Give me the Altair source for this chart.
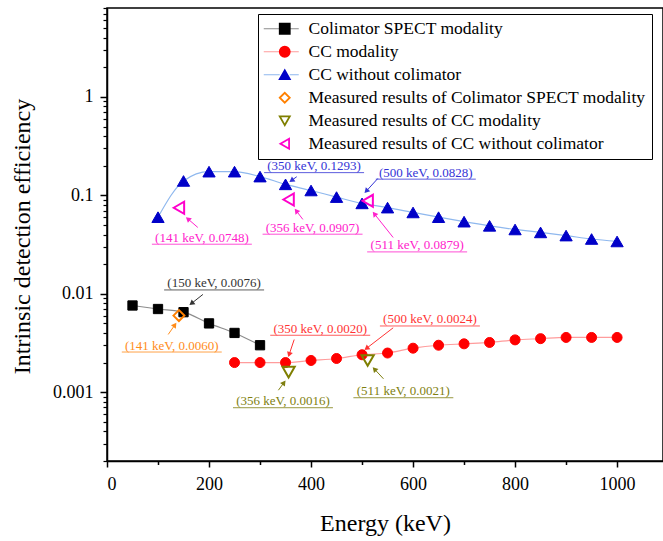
import math
import altair as alt
import pandas as pd

# ---------------- data ----------------
SERIES = [
    "Colimator SPECT modality",
    "CC modality",
    "CC without colimator",
    "Measured results of Colimator SPECT modality",
    "Measured results of CC modality",
    "Measured results of CC without colimator",
]

spect_energy = [50, 100, 150, 200, 250, 300]
spect_eff = [0.0076, 0.0070, 0.0065, 0.0050, 0.0040, 0.0030]

cc_energy = [250, 300, 350, 400, 450, 500, 550, 600, 650, 700, 750, 800, 850, 900, 950, 1000]
cc_eff = [0.0020, 0.0020, 0.0020, 0.0021, 0.0022, 0.0024, 0.0025, 0.0028, 0.0030,
          0.0031, 0.0032, 0.0034, 0.0035, 0.0036, 0.0036, 0.0036]

free_energy = [100, 150, 200, 250, 300, 350, 400, 450, 500, 550, 600, 650, 700,
               750, 800, 850, 900, 950, 1000]
free_eff = [0.060, 0.140, 0.174, 0.174, 0.155, 0.1293, 0.112, 0.096, 0.0828, 0.075,
            0.067, 0.060, 0.054, 0.049, 0.045, 0.042, 0.039, 0.036, 0.034]

meas_spect_energy = [141]
meas_spect_eff = [0.0060]
meas_cc_energy = [356, 511]
meas_cc_eff = [0.0016, 0.0021]
meas_free_energy = [141, 356, 511]
meas_free_eff = [0.0748, 0.0907, 0.0879]

# annotations (label centre, arrow tail, arrow head) in data units
ann_text = ["(350 keV, 0.1293)", "(500 keV, 0.0828)", "(141 keV, 0.0748)",
            "(356 keV, 0.0907)", "(511 keV, 0.0879)", "(150 keV, 0.0076)",
            "(141 keV, 0.0060)", "(350 keV, 0.0020)", "(500 keV, 0.0024)",
            "(356 keV, 0.0016)", "(511 keV, 0.0021)"]
ann_x = [406, 625, 186, 403, 608, 210, 127, 418, 633, 345, 581]
ann_y = [0.198, 0.170, 0.0371, 0.0469, 0.0310, 0.01273, 0.00298, 0.00441, 0.00548, 0.000810, 0.001023]
tail_x = [372, 531, 178, 384, 561, 188, 120, 367, 561, 336, 542]
tail_y = [0.1545, 0.1485, 0.0472, 0.0569, 0.0373, 0.00984, 0.00386, 0.00343, 0.00451, 0.001047, 0.001368]
head_x = [359, 506, 156, 369, 522, 163, 135, 356, 506, 349, 522]
head_y = [0.1384, 0.107, 0.0592, 0.0719, 0.0670, 0.00778, 0.00499, 0.00232, 0.00272, 0.001294, 0.00177]

BLUE_T, MAG_T, BLK_T, ORG_T, RED_T, OLV_T = "#3333d6", "#ff22cc", "#333333", "#ff8c1a", "#ff3333", "#7f7f10"
ann_color = [BLUE_T, BLUE_T, MAG_T, MAG_T, MAG_T, BLK_T, ORG_T, RED_T, RED_T, OLV_T, OLV_T]

x_major = [0, 200, 400, 600, 800, 1000]
x_minor = [100, 300, 500, 700, 900]
y_major = [0.001, 0.01, 0.1, 1]
y_minor = [m * 10.0 ** e for e in range(-4, 1) for m in range(2, 10) if 2e-4 <= m * 10.0 ** e <= 8]

# ---------------- styles / geometry ----------------
MARK_COLOR = ["#000000", "#ff0000", "#0000c8", "#ff8000", "#7f7f00", "#ff00cc"]
MARK_FILL = ["#000000", "#ff0000", "#0000c8", "transparent", "transparent", "transparent"]
LINE_COLOR = ["#8c8c8c", "#ff9c9c", "#8fb8ee"]
SHAPES = ["square", "circle", "triangle-up", "diamond", "triangle-down", "triangle-left"]
SIZES = [86, 100, 150, 120, 150, 145]
SW = [1, 1, 1, 2, 2, 2]

X_MIN, X_MAX = 0, 1090
Y_MIN, Y_MAX = 2e-4, 8
W, H = 556, 453
PX_KEV = W / (X_MAX - X_MIN)
PX_DEC = H / math.log10(Y_MAX / Y_MIN)
FONT = "Liberation Serif"


def to_px(x, y):
    return (x - X_MIN) * PX_KEV, (math.log10(Y_MAX) - math.log10(y)) * PX_DEC


def from_px(px, py):
    return px / PX_KEV + X_MIN, 10 ** (math.log10(Y_MAX) - py / PX_DEC)


# ---------------- tables ----------------
line_rows = []
for e, v in zip(spect_energy, spect_eff):
    line_rows.append(dict(series=SERIES[0], energy=e, eff=v, lc=LINE_COLOR[0]))
for e, v in zip(cc_energy, cc_eff):
    line_rows.append(dict(series=SERIES[1], energy=e, eff=v, lc=LINE_COLOR[1]))
for e, v in zip(free_energy, free_eff):
    line_rows.append(dict(series=SERIES[2], energy=e, eff=v, lc=LINE_COLOR[2]))
lines_df = pd.DataFrame(line_rows)

pt_rows = []
groups = [(spect_energy, spect_eff), (cc_energy, cc_eff), (free_energy, free_eff),
          (meas_spect_energy, meas_spect_eff), (meas_cc_energy, meas_cc_eff),
          (meas_free_energy, meas_free_eff)]
for i, (es, vs) in enumerate(groups):
    for e, v in zip(es, vs):
        pt_rows.append(dict(series=SERIES[i], energy=e, eff=v, size=SIZES[i], sw=SW[i]))
pts_df = pd.DataFrame(pt_rows)

ann_rows = []
for i, t in enumerate(ann_text):
    cx, cy = to_px(ann_x[i], ann_y[i])
    half = len(t) * 2.94
    ux1, uy = from_px(cx - half, cy + 6.5)
    ux2, _ = from_px(cx + half, cy + 6.5)
    tx, ty = to_px(tail_x[i], tail_y[i])
    hx, hy = to_px(head_x[i], head_y[i])
    dx, dy = hx - tx, hy - ty
    L = math.hypot(dx, dy)
    ux, uyv = dx / L, dy / L
    ax, ay = from_px(hx - 2.6 * ux, hy - 2.6 * uyv)
    ang = math.degrees(math.atan2(dx, -dy)) % 360
    ann_rows.append(dict(text=t, color=ann_color[i], x=ann_x[i], y=ann_y[i],
                         ux1=ux1, ux2=ux2, uy=uy, tx=tail_x[i], ty=tail_y[i],
                         ex=ax, ey=ay, ang=ang))
ann_df = pd.DataFrame(ann_rows)

# ---------------- chart ----------------
xs = alt.Scale(domain=[X_MIN, X_MAX], nice=False, zero=False)
ys = alt.Scale(type="log", domain=[Y_MIN, Y_MAX], nice=False)

x_minor_axis = alt.Axis(orient="bottom", values=x_minor, tickSize=3.5, tickWidth=1.5,
                        tickColor="black", labels=False, domain=False, title=None, grid=False)
y_minor_axis = alt.Axis(orient="left", values=y_minor, tickSize=4, tickWidth=1.2,
                        tickColor="black", labels=False, domain=False, title=None, grid=False)
x_major_axis = alt.Axis(orient="bottom", values=x_major, format="d", tickSize=6, tickWidth=1.5,
                        tickColor="black", domainColor="black", domainWidth=1.5,
                        labelFont=FONT, labelFontSize=18, labelColor="black", labelPadding=8,
                        title="Energy (keV)", titleFont=FONT, titleFontSize=24,
                        titleFontWeight="normal", titleColor="black", titleY=62,
                        titleBaseline="middle", grid=False)
y_major_axis = alt.Axis(orient="left", values=y_major, tickSize=7, tickWidth=1.5,
                        tickColor="black", domainColor="black", domainWidth=1.5,
                        labelFont=FONT, labelFontSize=18, labelColor="black", labelPadding=7,
                        labelExpr="datum.value >= 1 ? '1' : format(datum.value, '~g')",
                        title="Intrinsic detection efficiency", titleFont=FONT, titleFontSize=24,
                        titleFontWeight="normal", titleColor="black", titleAngle=270,
                        titleX=-85, titleY=228, titleAlign="center", titleBaseline="middle",
                        grid=False)

lines = alt.Chart(lines_df).mark_line(interpolate="monotone", strokeWidth=1.2).encode(
    x=alt.X("energy:Q", scale=xs, axis=x_minor_axis),
    y=alt.Y("eff:Q", scale=ys, axis=y_minor_axis),
    color=alt.Color("lc:N", scale=None),
    detail="series:N",
)

leg_common = dict(orient="none", legendX=151, legendY=6, title=None, labelFont=FONT,
                  labelFontSize=17.5, labelLimit=500, symbolSize=100, padding=6,
                  rowPadding=4, symbolOffset=12, labelOffset=15)
legB = alt.Legend(labelColor="black", symbolStrokeWidth=1.8, strokeColor="black", **leg_common)
legA = alt.Legend(labelOpacity=0, labelExpr="' '", symbolStrokeWidth=1.2, **leg_common)

ARM = "M-4.2,0H-1M1,0H2.8"
dummy = alt.Chart(pts_df).mark_point(filled=False, opacity=1).encode(
    x=alt.X("energy:Q", scale=xs, axis=None),
    y=alt.Y("eff:Q", scale=ys, axis=None),
    shape=alt.Shape("series:N", scale=alt.Scale(domain=SERIES, range=[ARM, ARM, ARM, "M0,0", "M0,0", "M0,0"]), legend=legA),
    stroke=alt.Stroke("series:N", scale=alt.Scale(domain=SERIES, range=LINE_COLOR + ["transparent"] * 3), legend=legA),
).transform_filter("false")

points = alt.Chart(pts_df).mark_point(filled=True, opacity=1).encode(
    x=alt.X("energy:Q", scale=xs, axis=x_major_axis),
    y=alt.Y("eff:Q", scale=ys, axis=y_major_axis),
    shape=alt.Shape("series:N", scale=alt.Scale(domain=SERIES, range=SHAPES), legend=legB),
    fill=alt.Fill("series:N", scale=alt.Scale(domain=SERIES, range=MARK_FILL), legend=legB),
    stroke=alt.Stroke("series:N", scale=alt.Scale(domain=SERIES, range=MARK_COLOR), legend=legB),
    size=alt.Size("size:Q", scale=None),
    strokeWidth=alt.StrokeWidth("sw:Q", scale=None),
)

underline = alt.Chart(ann_df).mark_rule(strokeWidth=0.8).encode(
    x=alt.X("ux1:Q", scale=xs, axis=None), x2="ux2:Q",
    y=alt.Y("uy:Q", scale=ys, axis=None),
    color=alt.Color("color:N", scale=None),
)
arrows = alt.Chart(ann_df).mark_rule(strokeWidth=1).encode(
    x=alt.X("tx:Q", scale=xs, axis=None), x2="ex:Q",
    y=alt.Y("ty:Q", scale=ys, axis=None), y2="ey:Q",
    color=alt.Color("color:N", scale=None),
)
heads = alt.Chart(ann_df).mark_point(shape="triangle", filled=True, opacity=1, size=36, strokeWidth=0).encode(
    x=alt.X("ex:Q", scale=xs, axis=None),
    y=alt.Y("ey:Q", scale=ys, axis=None),
    angle=alt.Angle("ang:Q", scale=None),
    fill=alt.Fill("color:N", scale=None),
)
texts = alt.Chart(ann_df).mark_text(font=FONT, fontSize=13, baseline="middle", align="center").encode(
    x=alt.X("x:Q", scale=xs, axis=None),
    y=alt.Y("y:Q", scale=ys, axis=None),
    text="text:N",
    color=alt.Color("color:N", scale=None),
)

chart = alt.layer(lines, dummy, points, underline, arrows, heads, texts).resolve_scale(
    shape="independent", fill="independent", stroke="independent"
).resolve_axis(x="independent", y="independent").properties(
    width=W, height=H,
    autosize=alt.AutoSizeParams(type="none"),
    padding={"left": 107, "top": 8, "right": 0, "bottom": 80},
    background="white",
).configure_view(stroke="black", strokeWidth=1.5)

chart.save("out.html", embed_options={"renderer": "svg", "actions": False})
